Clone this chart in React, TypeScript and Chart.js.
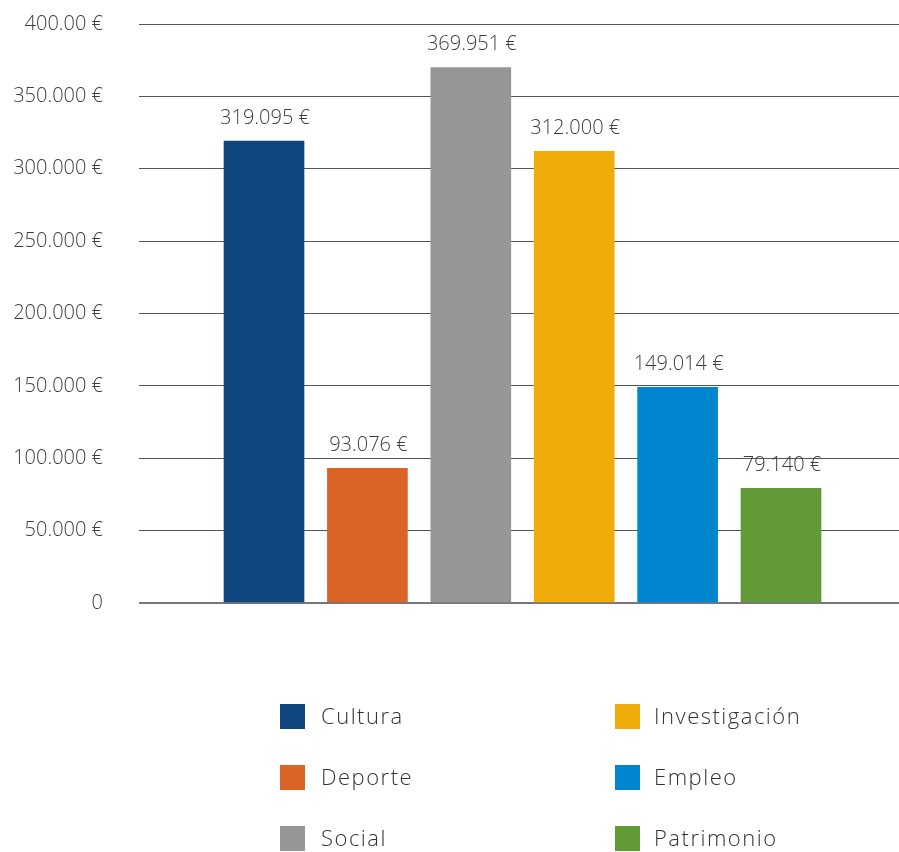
import React, { useEffect, useRef } from "react";
import { Chart, registerables } from "chart.js";

Chart.register(...registerables);

const categories = ["Cultura", "Deporte", "Social", "Investigación", "Empleo", "Patrimonio"];
const values = [319095, 93076, 369951, 312000, 149014, 79140];
const valueLabels = ["319.095 €", "93.076 €", "369.951 €", "312.000 €", "149.014 €", "79.140 €"];
const colors = ["#0F4680", "#D96426", "#969696", "#F0AD0A", "#0086CE", "#629A37"];
const yTickValues = [0, 50000, 100000, 150000, 200000, 250000, 300000, 350000, 400000];
const yTickLabels = ["0", "50.000 €", "100.000 €", "150.000 €", "200.000 €", "250.000 €", "300.000 €", "350.000 €", "400.00 €"];

const FONT = "'Open Sans', 'Noto Sans', sans-serif";
const TEXT_COLOR = "#3d3d3d";

const valueLabelPlugin = {
  id: "valueLabels",
  afterDatasetsDraw(chart: any) {
    const ctx = chart.ctx;
    const meta = chart.getDatasetMeta(0);
    ctx.save();
    ctx.font = `300 20px ${FONT}`;
    ctx.fillStyle = TEXT_COLOR;
    ctx.textAlign = "center";
    ctx.textBaseline = "alphabetic";
    meta.data.forEach((bar: any, i: number) => {
      ctx.fillText(valueLabels[i], bar.x + 1, bar.y - 17);
    });
    ctx.restore();
  },
};

const legendPlugin = {
  id: "gridLegend",
  afterDraw(chart: any) {
    const ctx = chart.ctx;
    ctx.save();
    ctx.font = `300 22px ${FONT}`;
    (ctx as any).letterSpacing = "1.5px";
    ctx.textAlign = "left";
    ctx.textBaseline = "middle";
    const colBox = [280, 615];
    const colText = [321, 654];
    const rowTop = [704, 765, 826];
    const size = 25;
    categories.forEach((name, i) => {
      const col = Math.floor(i / 3);
      const row = i % 3;
      ctx.fillStyle = colors[i];
      ctx.fillRect(colBox[col], rowTop[row], size, size);
      ctx.fillStyle = "#333";
      ctx.fillText(name, colText[col], rowTop[row] + size / 2 + 1);
    });
    ctx.restore();
  },
};

export default function App() {
  const canvasRef = useRef<HTMLCanvasElement | null>(null);

  useEffect(() => {
    if (!canvasRef.current) return;
    const chart = new Chart(canvasRef.current, {
      type: "bar",
      data: {
        datasets: [
          {
            label: "Importe",
            data: values.map((v, i) => ({ x: i, y: v })),
            backgroundColor: colors,
            borderWidth: 0,
            barThickness: 80,
          },
        ],
      },
      options: {
        animation: false,
        responsive: true,
        maintainAspectRatio: false,
        layout: { padding: { top: 24, bottom: 249, left: 0, right: 0 } },
        plugins: {
          legend: { display: false },
          title: { display: false },
          tooltip: { enabled: false },
        },
        scales: {
          x: {
            type: "linear",
            display: false,
            offset: false,
            min: -1.209,
            max: 6.141,
            grid: { display: false },
          },
          y: {
            min: 0,
            max: 400000,
            afterFit(scale: any) {
              scale.width = 139;
              scale.paddingTop = 0;
              scale.paddingBottom = 0;
            },
            afterBuildTicks(scale: any) {
              scale.ticks = yTickValues.map((v) => ({ value: v }));
            },
            border: { display: false },
            grid: {
              drawTicks: false,
              color: (c: any) => (c.tick && c.tick.value === 0 ? "#777" : "#555"),
              lineWidth: (c: any) => (c.tick && c.tick.value === 0 ? 2 : 1),
            },
            ticks: {
              padding: 36,
              color: TEXT_COLOR,
              font: { family: FONT, size: 20, weight: "300" as any },
              callback: (value: any) => {
                const idx = yTickValues.indexOf(Number(value));
                return idx >= 0 ? yTickLabels[idx] : "";
              },
            },
          },
        },
      },
      plugins: [valueLabelPlugin, legendPlugin],
    });
    return () => chart.destroy();
  }, []);

  return (
    <div style={{ position: "absolute", left: 0, top: 0, width: 899, height: 852 }}>
      <canvas ref={canvasRef} />
    </div>
  );
}
